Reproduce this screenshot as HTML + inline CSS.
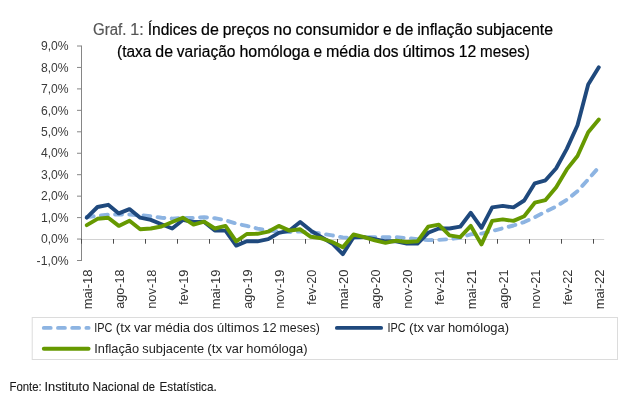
<!DOCTYPE html>
<html lang="pt"><head><meta charset="utf-8"><title>Graf. 1</title>
<style>
html,body{margin:0;padding:0;background:#fff;}
body{width:640px;height:405px;overflow:hidden;position:relative;font-family:"Liberation Sans",sans-serif;}
svg{position:absolute;left:0;top:0;display:block}
text{font-family:"Liberation Sans",sans-serif;}
.ax{fill:#3a3a3a;font-size:13px}
.xl{fill:#333;font-size:13px}
.lg{fill:#1e1e1e;font-size:13.1px}
.tt{font-size:16px;fill:#000;stroke:#000;stroke-width:0.2px}
.tg{font-size:16px;fill:#555;stroke:#555;stroke-width:0.2px}
.ft{font-size:12.4px;fill:#1a1a1a;stroke:#1a1a1a;stroke-width:0.1px}
</style></head><body>
<svg width="640" height="405" viewBox="0 0 640 405">
<rect width="640" height="405" fill="#fff"/>
<text class="tg" y="35.0"><tspan x="93.0" textLength="33.4" lengthAdjust="spacingAndGlyphs">Graf.</tspan> <tspan x="130.3" textLength="13.4" lengthAdjust="spacingAndGlyphs">1:</tspan></text>
<text class="tt" y="35.0"><tspan x="147.7" textLength="49.4" lengthAdjust="spacingAndGlyphs">Índices</tspan> <tspan x="201.0" textLength="17.8" lengthAdjust="spacingAndGlyphs">de</tspan> <tspan x="222.7" textLength="46.7" lengthAdjust="spacingAndGlyphs">preços</tspan> <tspan x="273.3" textLength="18.3" lengthAdjust="spacingAndGlyphs">no</tspan> <tspan x="295.5" textLength="83.6" lengthAdjust="spacingAndGlyphs">consumidor</tspan> <tspan x="383.0" textLength="8.6" lengthAdjust="spacingAndGlyphs">e</tspan> <tspan x="395.6" textLength="17.8" lengthAdjust="spacingAndGlyphs">de</tspan> <tspan x="417.2" textLength="55.2" lengthAdjust="spacingAndGlyphs">inflação</tspan> <tspan x="476.3" textLength="76.7" lengthAdjust="spacingAndGlyphs">subjacente</tspan></text>
<text class="tt" y="57.0"><tspan x="117.0" textLength="34.4" lengthAdjust="spacingAndGlyphs">(taxa</tspan> <tspan x="155.3" textLength="17.7" lengthAdjust="spacingAndGlyphs">de</tspan> <tspan x="176.8" textLength="58.6" lengthAdjust="spacingAndGlyphs">variação</tspan> <tspan x="239.4" textLength="70.2" lengthAdjust="spacingAndGlyphs">homóloga</tspan> <tspan x="313.5" textLength="8.6" lengthAdjust="spacingAndGlyphs">e</tspan> <tspan x="326.0" textLength="43.7" lengthAdjust="spacingAndGlyphs">média</tspan> <tspan x="373.6" textLength="24.9" lengthAdjust="spacingAndGlyphs">dos</tspan> <tspan x="402.4" textLength="52.3" lengthAdjust="spacingAndGlyphs">últimos</tspan> <tspan x="458.7" textLength="17.5" lengthAdjust="spacingAndGlyphs">12</tspan> <tspan x="480.1" textLength="49.7" lengthAdjust="spacingAndGlyphs">meses)</tspan></text>
<g stroke="#d2d2d2" stroke-width="1" fill="none">
<path d="M82 239.5 H604.2"/>
</g>
<g stroke="#868686" stroke-width="1" fill="none">
<path d="M81.5 45.6 V261"/>
<path d="M77 260.50 H81.5"/><path d="M77 239.05 H81.5"/><path d="M77 217.60 H81.5"/><path d="M77 196.15 H81.5"/><path d="M77 174.70 H81.5"/><path d="M77 153.25 H81.5"/><path d="M77 131.80 H81.5"/><path d="M77 110.35 H81.5"/><path d="M77 88.90 H81.5"/><path d="M77 67.45 H81.5"/><path d="M77 46.00 H81.5"/>
</g>
<g stroke="#4d4d4d" stroke-width="1" fill="none">
<path d="M81.5 239 V243.7"/><path d="M113.5 239 V243.7"/><path d="M145.5 239 V243.7"/><path d="M177.5 239 V243.7"/><path d="M209.5 239 V243.7"/><path d="M241.5 239 V243.7"/><path d="M273.5 239 V243.7"/><path d="M305.5 239 V243.7"/><path d="M337.5 239 V243.7"/><path d="M369.5 239 V243.7"/><path d="M401.5 239 V243.7"/><path d="M433.5 239 V243.7"/><path d="M465.5 239 V243.7"/><path d="M497.5 239 V243.7"/><path d="M529.5 239 V243.7"/><path d="M561.5 239 V243.7"/><path d="M593.5 239 V243.7"/>
</g>
<text class="ax" x="36.6" y="264.6" textLength="32.0" lengthAdjust="spacingAndGlyphs">-1,0%</text> <text class="ax" x="40.9" y="243.2" textLength="27.7" lengthAdjust="spacingAndGlyphs">0,0%</text> <text class="ax" x="40.9" y="221.7" textLength="27.7" lengthAdjust="spacingAndGlyphs">1,0%</text> <text class="ax" x="40.9" y="200.2" textLength="27.7" lengthAdjust="spacingAndGlyphs">2,0%</text> <text class="ax" x="40.9" y="178.8" textLength="27.7" lengthAdjust="spacingAndGlyphs">3,0%</text> <text class="ax" x="40.9" y="157.3" textLength="27.7" lengthAdjust="spacingAndGlyphs">4,0%</text> <text class="ax" x="40.9" y="135.9" textLength="27.7" lengthAdjust="spacingAndGlyphs">5,0%</text> <text class="ax" x="40.9" y="114.5" textLength="27.7" lengthAdjust="spacingAndGlyphs">6,0%</text> <text class="ax" x="40.9" y="93.0" textLength="27.7" lengthAdjust="spacingAndGlyphs">7,0%</text> <text class="ax" x="40.9" y="71.6" textLength="27.7" lengthAdjust="spacingAndGlyphs">8,0%</text> <text class="ax" x="40.9" y="50.1" textLength="27.7" lengthAdjust="spacingAndGlyphs">9,0%</text> 
<text class="xl" transform="translate(92.1 269.6) rotate(-90)" x="-39.6" y="0" textLength="39.6" lengthAdjust="spacingAndGlyphs">mai-18</text> <text class="xl" transform="translate(124.1 269.6) rotate(-90)" x="-39.1" y="0" textLength="39.1" lengthAdjust="spacingAndGlyphs">ago-18</text> <text class="xl" transform="translate(156.1 269.6) rotate(-90)" x="-39.2" y="0" textLength="39.2" lengthAdjust="spacingAndGlyphs">nov-18</text> <text class="xl" transform="translate(188.1 269.6) rotate(-90)" x="-35.3" y="0" textLength="35.3" lengthAdjust="spacingAndGlyphs">fev-19</text> <text class="xl" transform="translate(220.1 269.6) rotate(-90)" x="-39.6" y="0" textLength="39.6" lengthAdjust="spacingAndGlyphs">mai-19</text> <text class="xl" transform="translate(252.1 269.6) rotate(-90)" x="-39.1" y="0" textLength="39.1" lengthAdjust="spacingAndGlyphs">ago-19</text> <text class="xl" transform="translate(284.1 269.6) rotate(-90)" x="-39.2" y="0" textLength="39.2" lengthAdjust="spacingAndGlyphs">nov-19</text> <text class="xl" transform="translate(316.1 269.6) rotate(-90)" x="-35.3" y="0" textLength="35.3" lengthAdjust="spacingAndGlyphs">fev-20</text> <text class="xl" transform="translate(348.1 269.6) rotate(-90)" x="-39.6" y="0" textLength="39.6" lengthAdjust="spacingAndGlyphs">mai-20</text> <text class="xl" transform="translate(380.1 269.6) rotate(-90)" x="-39.1" y="0" textLength="39.1" lengthAdjust="spacingAndGlyphs">ago-20</text> <text class="xl" transform="translate(412.1 269.6) rotate(-90)" x="-39.2" y="0" textLength="39.2" lengthAdjust="spacingAndGlyphs">nov-20</text> <text class="xl" transform="translate(444.1 269.6) rotate(-90)" x="-35.3" y="0" textLength="35.3" lengthAdjust="spacingAndGlyphs">fev-21</text> <text class="xl" transform="translate(476.1 269.6) rotate(-90)" x="-39.6" y="0" textLength="39.6" lengthAdjust="spacingAndGlyphs">mai-21</text> <text class="xl" transform="translate(508.1 269.6) rotate(-90)" x="-39.1" y="0" textLength="39.1" lengthAdjust="spacingAndGlyphs">ago-21</text> <text class="xl" transform="translate(540.1 269.6) rotate(-90)" x="-39.2" y="0" textLength="39.2" lengthAdjust="spacingAndGlyphs">nov-21</text> <text class="xl" transform="translate(572.1 269.6) rotate(-90)" x="-35.3" y="0" textLength="35.3" lengthAdjust="spacingAndGlyphs">fev-22</text> <text class="xl" transform="translate(604.1 269.6) rotate(-90)" x="-39.6" y="0" textLength="39.6" lengthAdjust="spacingAndGlyphs">mai-22</text> 
<path d="M86.8 217.0 L97.5 215.9 L108.2 214.7 L118.8 214.5 L129.5 214.5 L140.2 215.2 L150.8 216.3 L161.5 217.7 L172.2 218.6 L182.8 218.1 L193.5 217.9 L204.2 217.2 L214.8 218.2 L225.5 220.2 L236.2 223.6 L246.8 225.9 L257.5 228.6 L268.2 230.4 L278.8 231.5 L289.5 232.0 L300.2 231.5 L310.8 232.4 L321.5 233.6 L332.2 235.4 L342.8 237.4 L353.5 237.9 L364.2 237.2 L374.8 237.1 L385.5 237.1 L396.2 237.2 L406.8 238.1 L417.5 239.2 L428.2 240.1 L438.8 239.9 L449.5 239.2 L460.2 237.8 L470.8 234.3 L481.5 233.6 L492.2 231.1 L502.8 228.3 L513.5 225.5 L524.2 222.1 L534.8 217.1 L545.5 211.8 L556.2 206.4 L566.8 199.8 L577.5 191.2 L588.2 179.4 L598.8 167.2" fill="none" stroke="#8db4e2" stroke-width="3.9" stroke-linecap="round" stroke-linejoin="round" stroke-dasharray="6.9 7.3" stroke-dashoffset="0"/>
<path d="M86.8 217.7 L97.5 207.0 L108.2 204.8 L118.8 213.4 L129.5 209.1 L140.2 217.7 L150.8 219.9 L161.5 224.2 L172.2 228.5 L182.8 219.9 L193.5 222.0 L204.2 222.0 L214.8 230.6 L225.5 230.6 L236.2 245.6 L246.8 241.3 L257.5 241.3 L268.2 239.2 L278.8 232.8 L289.5 230.6 L300.2 222.0 L310.8 230.6 L321.5 237.1 L332.2 243.5 L342.8 254.2 L353.5 237.1 L364.2 237.1 L374.8 239.2 L385.5 241.3 L396.2 241.3 L406.8 243.5 L417.5 243.5 L428.2 232.8 L438.8 228.5 L449.5 228.5 L460.2 226.7 L470.8 212.8 L481.5 227.8 L492.2 207.4 L502.8 205.9 L513.5 207.4 L524.2 200.5 L534.8 183.3 L545.5 180.3 L556.2 168.3 L566.8 148.9 L577.5 125.3 L588.2 84.5 L598.8 67.3" fill="none" stroke="#1f497d" stroke-width="3.9" stroke-linecap="round" stroke-linejoin="round"/>
<path d="M86.8 225.2 L97.5 218.8 L108.2 217.7 L118.8 225.9 L129.5 220.7 L140.2 229.3 L150.8 228.5 L161.5 226.5 L172.2 222.0 L182.8 217.7 L193.5 224.6 L204.2 221.6 L214.8 228.5 L225.5 225.9 L236.2 241.3 L246.8 234.0 L257.5 233.8 L268.2 231.7 L278.8 225.9 L289.5 230.6 L300.2 229.3 L310.8 236.8 L321.5 238.3 L332.2 242.0 L342.8 247.2 L353.5 234.5 L364.2 237.1 L374.8 240.3 L385.5 242.9 L396.2 240.7 L406.8 242.0 L417.5 241.3 L428.2 226.7 L438.8 224.6 L449.5 235.3 L460.2 237.1 L470.8 225.9 L481.5 244.4 L492.2 220.9 L502.8 219.4 L513.5 220.9 L524.2 216.2 L534.8 202.7 L545.5 200.1 L556.2 187.2 L566.8 169.4 L577.5 156.0 L588.2 132.2 L598.8 119.5" fill="none" stroke="#669900" stroke-width="3.9" stroke-linecap="round" stroke-linejoin="round"/>
<rect x="32.2" y="317.5" width="585.3" height="42" fill="#fff" stroke="#dcdcdc" stroke-width="1"/>
<path d="M43.8 327.9 H88.6" stroke="#8db4e2" stroke-width="3.9" stroke-linecap="round" stroke-dasharray="6.9 7.3" fill="none"/>
<path d="M336.9 327.9 H381.1" stroke="#1f497d" stroke-width="3.9" stroke-linecap="round" fill="none"/>
<path d="M43.8 348.8 H88.6" stroke="#669900" stroke-width="3.9" stroke-linecap="round" fill="none"/>
<text class="lg" y="332.0"><tspan x="94.3" textLength="18.2" lengthAdjust="spacingAndGlyphs">IPC</tspan> <tspan x="115.7" textLength="15.0" lengthAdjust="spacingAndGlyphs">(tx</tspan> <tspan x="133.9" textLength="17.7" lengthAdjust="spacingAndGlyphs">var</tspan> <tspan x="154.7" textLength="35.4" lengthAdjust="spacingAndGlyphs">média</tspan> <tspan x="193.3" textLength="20.2" lengthAdjust="spacingAndGlyphs">dos</tspan> <tspan x="216.7" textLength="42.4" lengthAdjust="spacingAndGlyphs">últimos</tspan> <tspan x="262.3" textLength="14.2" lengthAdjust="spacingAndGlyphs">12</tspan> <tspan x="279.6" textLength="40.3" lengthAdjust="spacingAndGlyphs">meses)</tspan></text>
<text class="lg" y="332.0"><tspan x="387.5" textLength="18.2" lengthAdjust="spacingAndGlyphs">IPC</tspan> <tspan x="408.9" textLength="15.0" lengthAdjust="spacingAndGlyphs">(tx</tspan> <tspan x="427.1" textLength="17.7" lengthAdjust="spacingAndGlyphs">var</tspan> <tspan x="447.9" textLength="61.2" lengthAdjust="spacingAndGlyphs">homóloga)</tspan></text>
<text class="lg" y="353.0"><tspan x="94.3" textLength="44.8" lengthAdjust="spacingAndGlyphs">Inflação</tspan> <tspan x="142.3" textLength="61.9" lengthAdjust="spacingAndGlyphs">subjacente</tspan> <tspan x="207.3" textLength="15.0" lengthAdjust="spacingAndGlyphs">(tx</tspan> <tspan x="225.5" textLength="17.7" lengthAdjust="spacingAndGlyphs">var</tspan> <tspan x="246.3" textLength="61.2" lengthAdjust="spacingAndGlyphs">homóloga)</tspan></text>
<text class="ft" y="390.7"><tspan x="9.5" textLength="32.3" lengthAdjust="spacingAndGlyphs">Fonte:</tspan> <tspan x="44.5" textLength="44.8" lengthAdjust="spacingAndGlyphs">Instituto</tspan> <tspan x="92.5" textLength="46.8" lengthAdjust="spacingAndGlyphs">Nacional</tspan> <tspan x="142.5" textLength="12.5" lengthAdjust="spacingAndGlyphs">de</tspan> <tspan x="159.5" textLength="57.2" lengthAdjust="spacingAndGlyphs">Estatística.</tspan></text>
</svg>
</body></html>
